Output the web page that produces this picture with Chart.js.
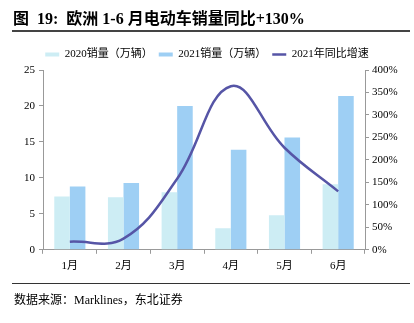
<!DOCTYPE html>
<html>
<head>
<meta charset="utf-8">
<script src="https://cdn.jsdelivr.net/npm/chart.js@4.4.1/dist/chart.umd.min.js"></script>
<style>
  body { margin: 0; background: #fff; }
  #wrap { position: relative; width: 414px; height: 323px; overflow: hidden; }
  #title { position: absolute; left: 13px; top: 5px; font: bold 16px "Liberation Serif", "Noto Sans CJK SC"; color: #000; white-space: pre; }
  #rule1 { position: absolute; left: 12px; top: 30px; width: 398px; height: 2px; background: #444; }
  #rule2 { position: absolute; left: 12px; top: 283px; width: 398px; height: 1px; background: #333; }
  #source { position: absolute; left: 14px; top: 290px; font: 12px "Liberation Serif", "Noto Sans CJK SC"; color: #000; white-space: pre; }
  #box { position: absolute; left: 0; top: 0; width: 414px; height: 323px; }
</style>
</head>
<body>
<div id="wrap">
  <div id="box"><canvas id="chart"></canvas></div>
  <div id="title">图  19:  欧洲 1-6 月电动车销量同比+130%</div>
  <div id="rule1"></div>
  <div id="rule2"></div>
  <div id="source">数据来源：Marklines，东北证券</div>
</div>
<script>
// data
const months = ['1月', '2月', '3月', '4月', '5月', '6月'];
const sales2020 = [7.4, 7.3, 8.0, 3.0, 4.8, 9.1];
const sales2021 = [8.8, 9.3, 20.0, 13.9, 15.6, 21.4];
const growth2021 = [18, 25, 158, 364, 227, 130];

const serif = '"Liberation Serif", "Noto Sans CJK SC"';
const axisColor = '#999';

let ctx = document.getElementById('chart');
new Chart(ctx, {
    type: 'bar',
    data: {
        labels: months,
        datasets: [
            {
                label: '2020销量（万辆）',
                data: sales2020,
                backgroundColor: '#CDEDF4',
                borderWidth: 0,
                pointStyle: 'rect',
                yAxisID: 'y',
                order: 1
            },
            {
                label: '2021销量（万辆）',
                data: sales2021,
                backgroundColor: '#9ECFF4',
                borderWidth: 0,
                pointStyle: 'rect',
                yAxisID: 'y',
                order: 1
            },
            {
                type: 'line',
                label: '2021年同比增速',
                data: growth2021,
                borderColor: '#5655A6',
                backgroundColor: '#5655A6',
                borderWidth: 2.5,
                pointRadius: 0,
                pointStyle: 'line',
                tension: 0.4,
                yAxisID: 'y1',
                order: 0
            }
        ]
    },
    options: {
        responsive: true,
        maintainAspectRatio: false,
        animation: false,
        layout: {
            padding: { top: 43, bottom: 44, left: 0, right: 0 }
        },
        datasets: {
            bar: { categoryPercentage: 0.58, barPercentage: 1.0 }
        },
        plugins: {
            tooltip: { enabled: false },
            legend: {
                labels: {
                    usePointStyle: true,
                    pointStyleWidth: 14,
                    boxHeight: 4,
                    padding: 6,
                    color: '#000',
                    font: { family: serif, size: 11 },
                    sort: (a, b) => a.datasetIndex - b.datasetIndex
                }
            }
        },
        scales: {
            x: {
                offset: true,
                grid: {
                    display: true,
                    offset: true,
                    drawOnChartArea: false,
                    tickLength: 4,
                    color: axisColor
                },
                border: { color: axisColor },
                ticks: {
                    color: '#000',
                    padding: 6,
                    font: { family: serif, size: 11 }
                }
            },
            y: {
                position: 'left',
                min: 0,
                max: 25,
                ticks: {
                    stepSize: 5,
                    color: '#000',
                    padding: 4,
                    font: { family: serif, size: 11 }
                },
                grid: {
                    drawOnChartArea: false,
                    tickLength: 4,
                    color: axisColor
                },
                border: { color: axisColor },
                afterFit: function (scale) { scale.width = 43; }
            },
            y1: {
                position: 'right',
                min: 0,
                max: 400,
                ticks: {
                    stepSize: 50,
                    color: '#000',
                    padding: 3,
                    font: { family: serif, size: 11 },
                    callback: v => v + '%'
                },
                grid: {
                    drawOnChartArea: false,
                    tickLength: 4,
                    color: axisColor
                },
                border: { color: axisColor },
                afterFit: function (scale) { scale.width = 49; }
            }
        }
    }
});
</script>
</body>
</html>
